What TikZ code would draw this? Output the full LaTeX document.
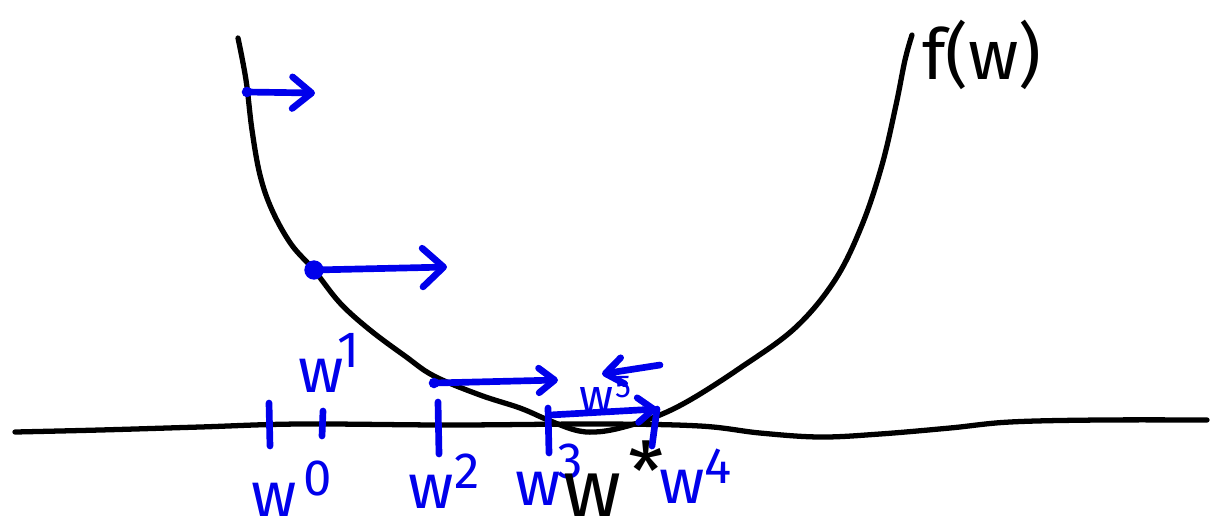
\documentclass[tikz,border=0pt]{standalone}
\usepackage{fontspec}
\setmainfont{Fira Sans}
\usetikzlibrary{arrows.meta}
\definecolor{pen}{RGB}{0,0,235}
\tikzset{
  curve/.style={draw=black, line width=3pt, line cap=round, line join=round},
  bluepen/.style={draw=pen, line width=3.8pt, line cap=round, line join=round},
  garrow/.style={bluepen, -{Straight Barb[length=11pt,width=18pt,line cap=round,line join=round]}},
  tick/.style={bluepen},
  lab/.style={text=pen, inner sep=0pt, font=\fontsize{36}{40}\selectfont},
  suplab/.style={text=pen, inner sep=0pt, font=\fontsize{29}{32}\selectfont},
  small/.style={text=pen, inner sep=0pt, font=\fontsize{27}{30}\selectfont},
  smallsup/.style={text=pen, inner sep=0pt, font=\fontsize{18}{20}\selectfont},
  dot/.style={circle, fill=pen, inner sep=0pt},
}
\begin{document}
\begin{tikzpicture}[x=0.02cm,y=-0.02cm]
\useasboundingbox (0,0) rectangle (1225,529);
% axis
\draw[curve] plot[smooth, tension=0.6] coordinates {(15,432) (100,430) (200,427) (300,424) (450,425) (600,424) (700,426) (760,433) (820,437) (880,434) (950,428) (1010,422) (1100,420) (1207,420)};
% function f(w)
\draw[curve] plot[smooth, tension=0.6] coordinates {(238,38) (246,80) (252,130) (260,175) (272,210) (291,244) (314,270) (340,303) (370,330) (405,356) (434,376) (480,395) (520,408) (548,420) (575,430) (595,432) (620,428) (655,417) (690,400) (740,368) (795,328) (835,280) (862,225) (882,165) (896,105) (905,60) (912,35)};
\node[inner sep=0pt, font=\fontsize{40}{44}\selectfont] (fw) at (982,55) {f(w)};

% iterate points
\node[dot, minimum size=6pt] (p0) at (247,92) {};
\node[dot, minimum size=11pt] (p1) at (314,270) {};
\node[dot, minimum size=6pt] (p2) at (434,383) {};
\coordinate (e0) at (315,93);
\coordinate (e1) at (447,267);
\coordinate (e2) at (558,380);
\coordinate (s3) at (550,415);
\coordinate (e3) at (657,409);
\coordinate (s4) at (660,365);
\coordinate (e4) at (602,374);

\draw[garrow] (p0.center) -- (e0);
\draw[bluepen, -{Straight Barb[length=12pt,width=22pt,line cap=round,line join=round]}] (p1.center) -- (e1);
\draw[bluepen, -{Straight Barb[length=9pt,width=14pt,line cap=round,line join=round]}] (p2.center) -- (e2);
\draw[bluepen, -{Straight Barb[length=9pt,width=14pt,line cap=round,line join=round]}] (s3) -- (e3);
\draw[bluepen, -{Straight Barb[length=10pt,width=15pt,line cap=round,line join=round]}] (s4) -- (e4);

% ticks
\coordinate (t0a) at (269,403); \coordinate (t0b) at (270,446);
\coordinate (t1a) at (323,411); \coordinate (t1b) at (322,436);
\coordinate (t2a) at (438,402); \coordinate (t2b) at (439,454);
\coordinate (t3a) at (548,408); \coordinate (t3b) at (549,453);
\coordinate (t4b) at (652,446);
\draw[tick] (t0a) -- (t0b);
\draw[tick] (t1a) -- (t1b);
\draw[tick] (t2a) -- (t2b);
\draw[tick] (t3a) -- (t3b);
\draw[tick] (e3) -- (t4b);

% labels
\node[lab] (w0) at (274,500) {w};
\node[suplab] (w0s) at (318,478) {0};
\node[lab] (w1) at (321,376) {w};
\node[suplab] (w1s) at (349,350) {1};
\node[lab] (w2) at (431,492) {w};
\node[suplab] (w2s) at (467,471) {2};
\node[lab] (w3) at (538,489) {w};
\node[suplab] (w3s) at (570,461) {3};
\node[lab] (w4) at (682,487) {w};
\node[suplab] (w4s) at (718,466) {4};
\node[small] (w5) at (597,400) {w};
\node[smallsup] (w5s) at (623,387) {5};
\node[inner sep=0pt, font=\fontsize{46}{50}\selectfont] (ws) at (592,495) {w};
\node[inner sep=0pt, font=\fontsize{46}{50}\selectfont] (star) at (646,471) {*};
\end{tikzpicture}
\end{document}
